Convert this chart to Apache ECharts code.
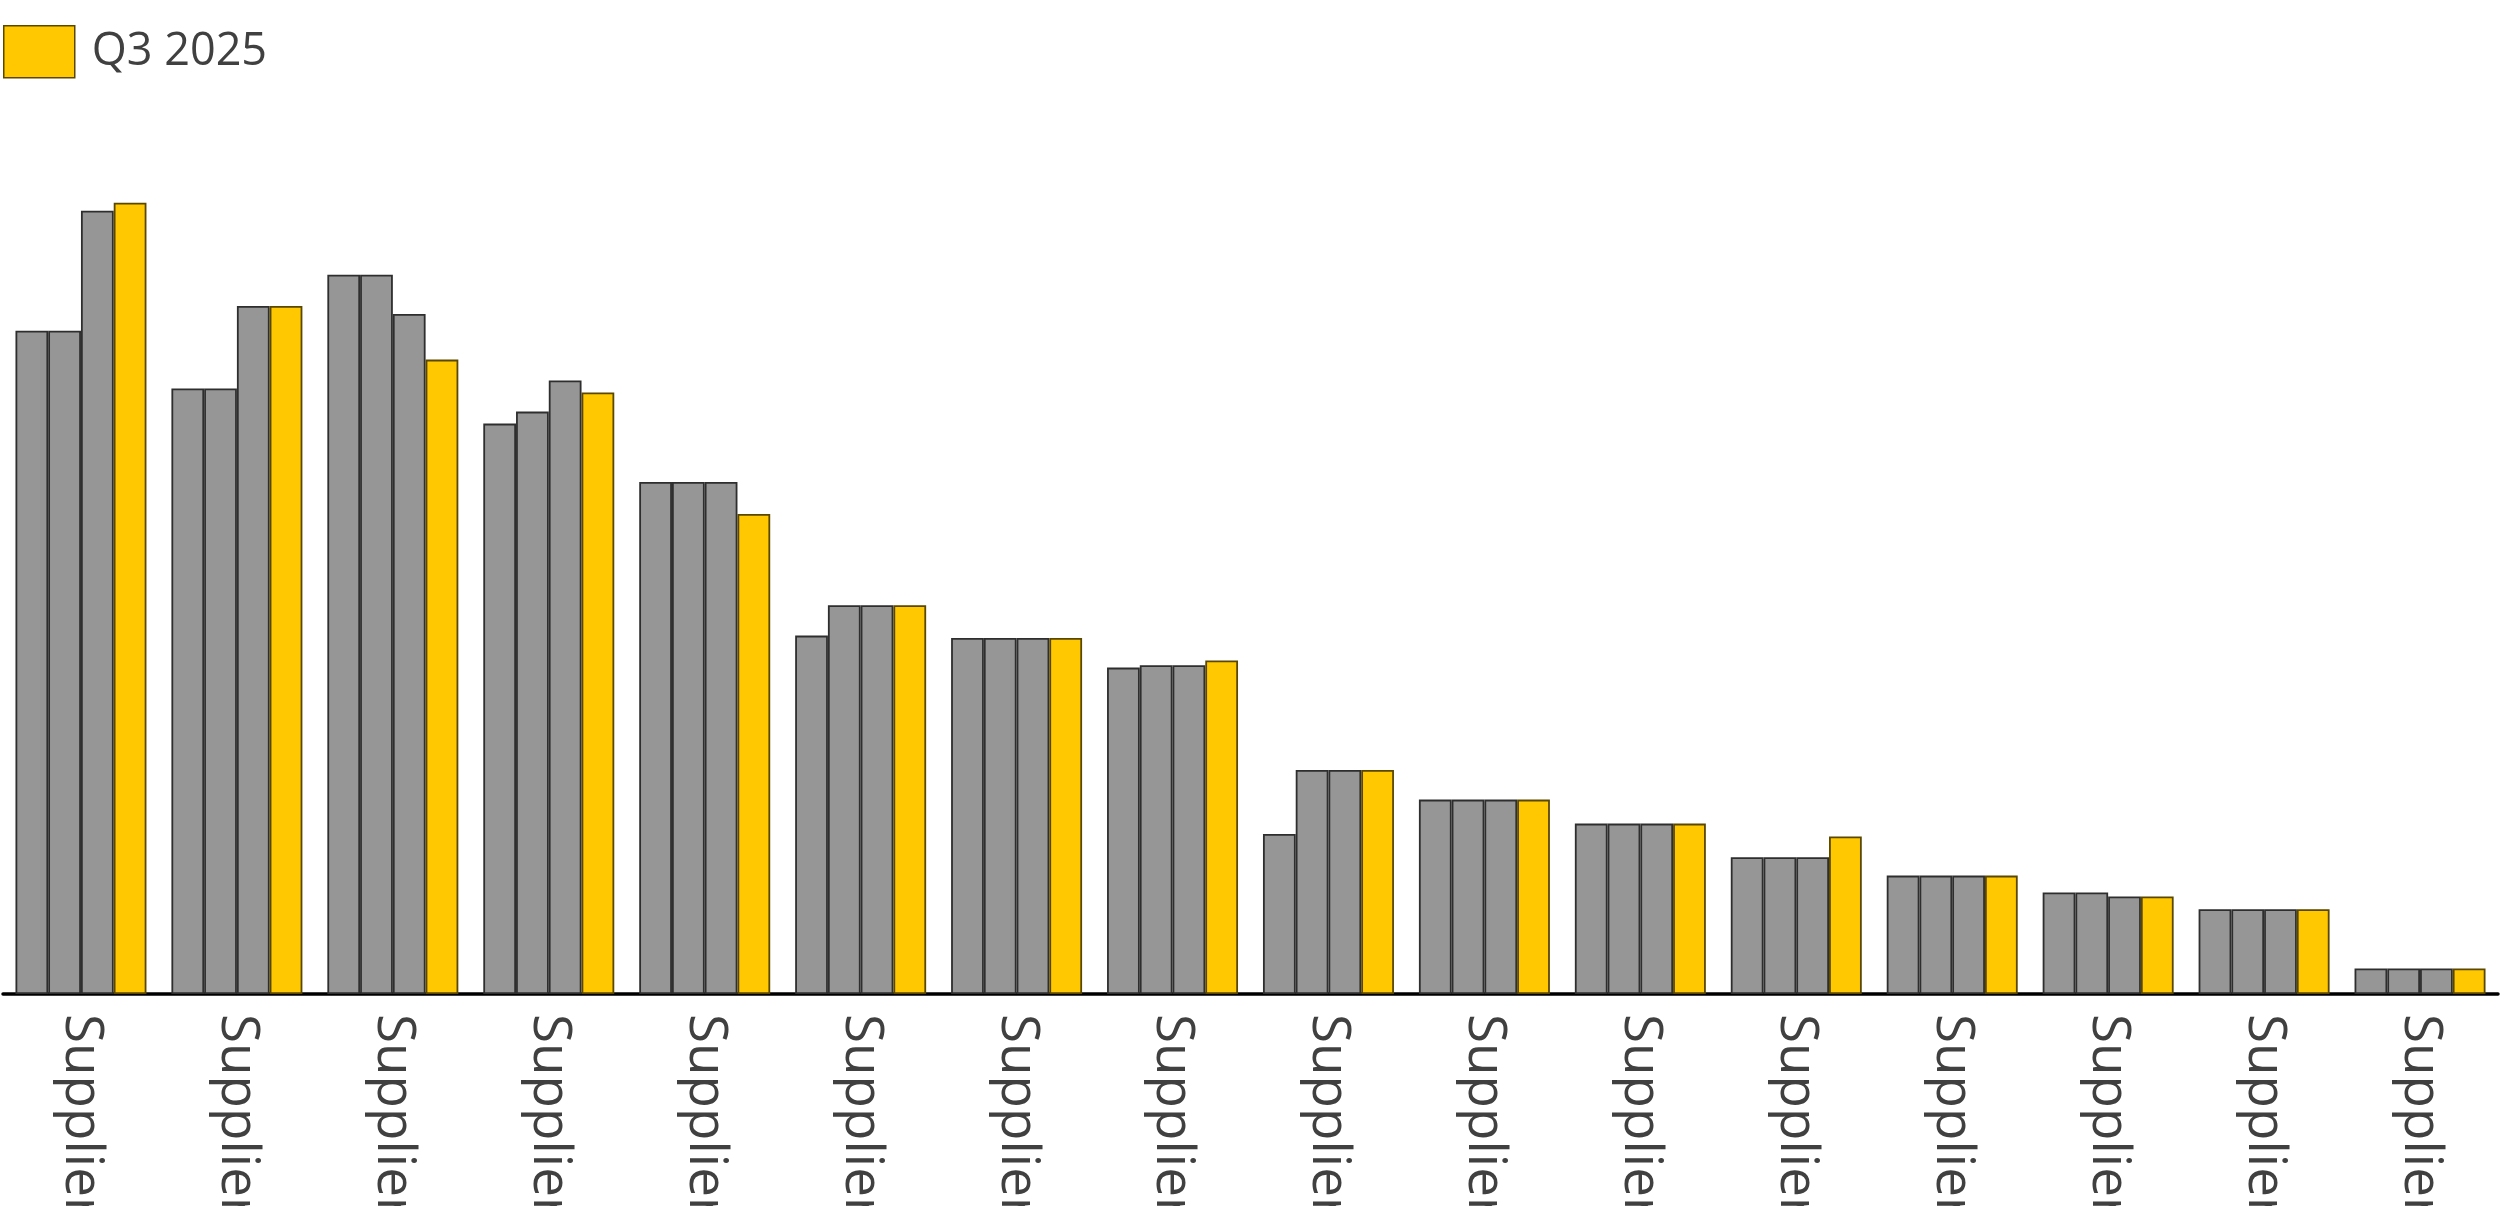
<!DOCTYPE html>
<html>
<head>
<meta charset="utf-8">
<script src="https://cdn.jsdelivr.net/npm/echarts@6/dist/echarts.min.js"></script>
<style>
html,body{margin:0;padding:0;background:#fff;overflow:hidden;}
#chart{width:2500px;height:1206px;}
</style>
</head>
<body>
<div id="chart"></div>
<script>
const categories = ['Supplier A','Supplier B','Supplier C','Supplier D','Supplier E','Supplier F','Supplier G','Supplier H','Supplier I','Supplier J','Supplier K','Supplier L','Supplier M','Supplier N','Supplier O','Supplier P'];
const seriesNames = ['Q4 2024','Q1 2025','Q2 2025','Q3 2025'];
const q4_2024 = [82.9, 75.7, 89.9, 71.3, 64.0, 44.8, 44.5, 40.8, 20.0, 24.3, 21.3, 17.1, 14.8, 12.7, 10.6, 3.2];
const q1_2025 = [82.9, 75.7, 89.9, 72.8, 64.0, 48.6, 44.5, 41.1, 28.0, 24.3, 21.3, 17.1, 14.8, 12.7, 10.6, 3.2];
const q2_2025 = [97.9, 86.0, 85.0, 76.7, 64.0, 48.6, 44.5, 41.1, 28.0, 24.3, 21.3, 17.1, 14.8, 12.2, 10.6, 3.2];
const q3_2025 = [98.9, 86.0, 79.3, 75.2, 60.0, 48.6, 44.5, 41.7, 28.0, 24.3, 21.3, 19.7, 14.8, 12.2, 10.6, 3.2];
const legendItems = ['Q3 2025'];

const gray = '#969696', grayBorder = '#2e2e2e';
const yellow = '#FFC800', yellowBorder = '#5a4700';

const values = [q4_2024, q1_2025, q2_2025, q3_2025];
const series = values.map((d, i) => ({
  name: seriesNames[i],
  type: 'bar',
  data: d,
  barGap: '0%',
  barCategoryGap: '16%',
  itemStyle: {
    color: i === 3 ? yellow : gray,
    borderColor: i === 3 ? yellowBorder : grayBorder,
    borderWidth: 1.8
  },
  emphasis: {disabled: true}
}));

const chart = echarts.init(document.getElementById('chart'), null, {renderer: 'canvas'});
chart.setOption({
  animation: false,
  backgroundColor: '#ffffff',
  textStyle: {fontFamily: 'Open Sans'},
  legend: {
    data: legendItems,
    left: 3,
    top: 25,
    padding: 0,
    itemWidth: 71,
    itemHeight: 52,
    icon: 'rect',
    itemStyle: {borderColor: yellowBorder, borderWidth: 1.5},
    textStyle: {fontSize: 45, color: '#404040', fontFamily: 'Open Sans', padding: [6, 0, 0, 12]}
  },
  grid: {left: 3, right: 2, top: 194, bottom: 212, containLabel: false, outerBoundsMode: 'none'},
  xAxis: {
    type: 'category',
    data: categories,
    axisLine: {show: true, lineStyle: {color: '#000', width: 3.5}},
    axisTick: {show: false},
    axisLabel: {
      rotate: -90,
      interval: 0,
      margin: 20,
      fontSize: 53,
      color: '#404040',
      fontFamily: 'Open Sans'
    }
  },
  yAxis: {
    type: 'value',
    min: 0,
    max: 100,
    show: false,
    splitLine: {show: false}
  },
  series: series
});
</script>
</body>
</html>
